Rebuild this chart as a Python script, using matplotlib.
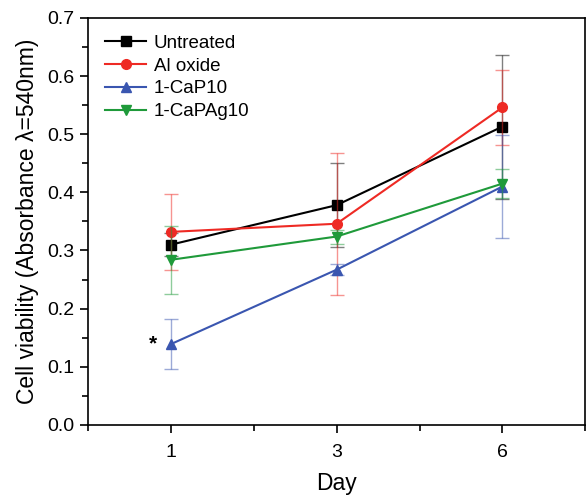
import matplotlib
matplotlib.use('Agg')
import matplotlib.pyplot as plt
from matplotlib.ticker import MultipleLocator

plt.rcParams['font.family'] = ['Liberation Sans', 'DejaVu Sans']

days = ['1', '3', '6']
untreated = [0.310, 0.378, 0.513]
untreated_err = [0.02, 0.072, 0.124]
al_oxide = [0.332, 0.346, 0.546]
al_oxide_err = [0.065, 0.122, 0.065]
cap10 = [0.139, 0.267, 0.410]
cap10_err = [0.043, 0.01, 0.088]
capag10 = [0.284, 0.324, 0.415]
capag10_err = [0.058, 0.012, 0.025]

series = [
    ('Untreated', untreated, untreated_err, 'black', 's'),
    ('Al oxide', al_oxide, al_oxide_err, '#ee2a24', 'o'),
    ('1-CaP10', cap10, cap10_err, '#3a56b0', '^'),
    ('1-CaPAg10', capag10, capag10_err, '#1f9a3a', 'v'),
]

fig = plt.figure(figsize=(5.87, 4.97), dpi=100)
ax = fig.add_axes([0.150, 0.145, 0.847, 0.819])
x = list(range(len(days)))
for name, vals, errs, col, mk in series:
    ax.errorbar(x, vals, yerr=errs, fmt='none', ecolor=col, alpha=0.5,
                elinewidth=1, capsize=5, capthick=1)
    ax.plot(x, vals, marker=mk, color=col, lw=1.5, markersize=7, label=name)

ax.text(-0.11, cap10[0], '*', fontsize=15, fontweight='bold', ha='center', va='center')

ax.set_xlim(-0.5, 2.5)
ax.set_ylim(0, 0.7)
ax.set_xticks(x)
ax.set_xticklabels(days)
ax.set_xticks([-0.5, 0.5, 1.5, 2.5], minor=True)
ax.yaxis.set_major_locator(MultipleLocator(0.1))
ax.yaxis.set_minor_locator(MultipleLocator(0.05))
ax.tick_params(which='major', direction='out', length=6, width=1.2, labelsize=14)
ax.tick_params(axis='x', which='major', pad=8)
ax.tick_params(which='minor', direction='out', length=4, width=1.2)
for s in ax.spines.values():
    s.set_linewidth(1.2)

ax.set_xlabel('Day', fontsize=16.5, labelpad=8)
ax.set_ylabel('Cell viability (Absorbance λ=540nm)', fontsize=16.5, labelpad=6)
ax.legend(loc='upper left', frameon=False, fontsize=13.5, handlelength=2.2,
          borderaxespad=0.5, labelspacing=0.3, handletextpad=0.4)

fig.savefig('out.png', dpi=100)
